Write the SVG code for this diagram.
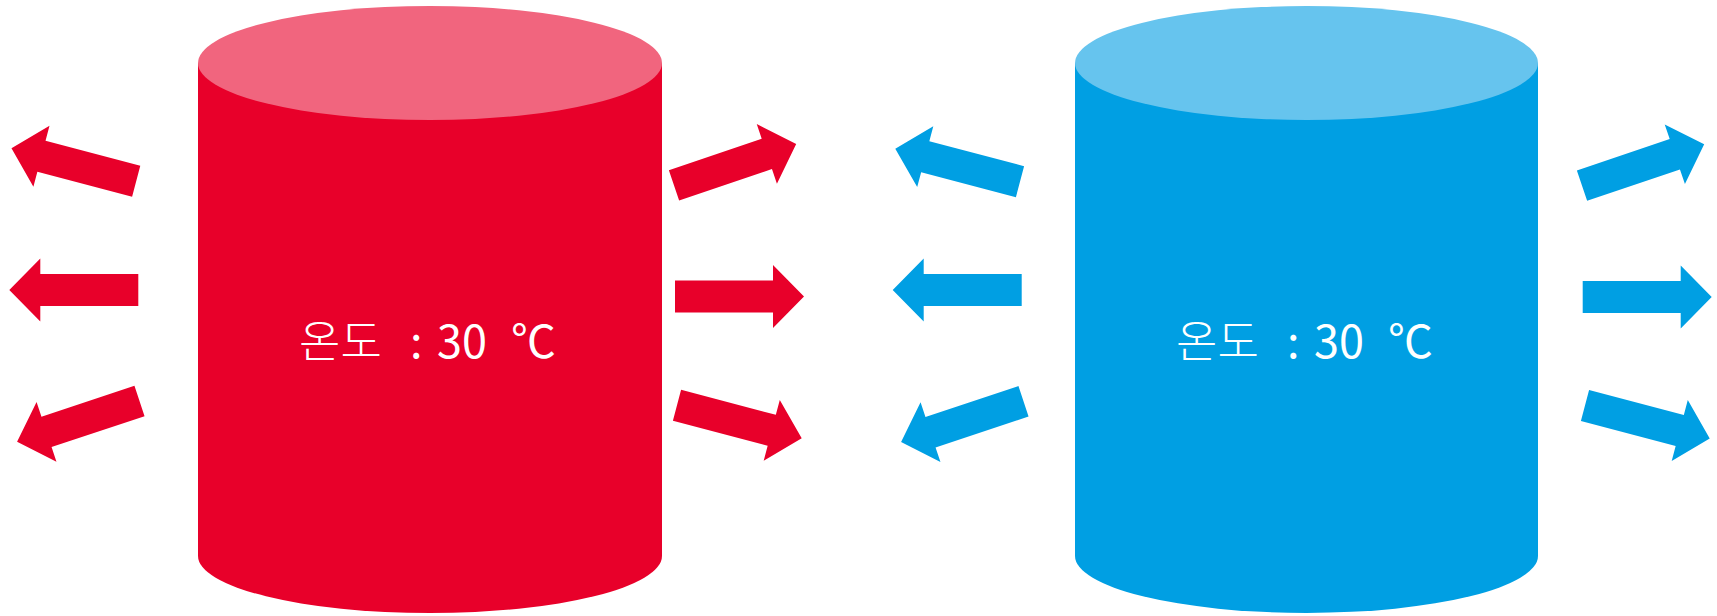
<svg xmlns="http://www.w3.org/2000/svg" width="1717" height="616" viewBox="0 0 1717 616">
<style>
.red{fill:#E8002A}
.redtop{fill:#F1657E}
.blue{fill:#009FE3}
.bluetop{fill:#66C4EE}
.lbl{fill:#FFFFFF;font-family:"Noto Sans CJK KR","Noto Sans",sans-serif;font-size:45px;font-weight:300}
.num{font-weight:400}
</style>
<defs>
<path id="arr" d="M0,-16 L98,-16 L98,-31.5 L129,0 L98,31.5 L98,16 L0,16 Z"/>
</defs>
<rect width="1717" height="616" fill="#FFFFFF"/>
<g id="cylinder-red">
<path class="red" d="M198,63 L198,556 A232,57 0 0 0 662,556 L662,63 Z"/>
<ellipse class="redtop" cx="430" cy="63" rx="232" ry="57"/>
<text class="lbl" y="358"><tspan x="299">온도</tspan><tspan class="num" x="410">:</tspan><tspan class="num" x="437">30</tspan><tspan class="num" x="511">℃</tspan></text>
</g>
<g id="cylinder-blue">
<path class="blue" d="M1075,63 L1075,556 A231.5,57 0 0 0 1538,556 L1538,63 Z"/>
<ellipse class="bluetop" cx="1306.5" cy="63" rx="231.5" ry="57"/>
<text class="lbl" y="358"><tspan x="1176">온도</tspan><tspan class="num" x="1287">:</tspan><tspan class="num" x="1314">30</tspan><tspan class="num" x="1388">℃</tspan></text>
</g>
<g id="connectors">
<use href="#arr" class="red" transform="translate(136.2,181.3) rotate(194.8)"/>
<use href="#arr" class="red" transform="translate(138.3,290) rotate(180)"/>
<use href="#arr" class="red" transform="translate(139.5,401) rotate(161.6)"/>
<use href="#arr" class="red" transform="translate(674,185.3) rotate(-18.7)"/>
<use href="#arr" class="red" transform="translate(675,296.5)"/>
<use href="#arr" class="red" transform="translate(677,405.3) rotate(14.8)"/>
<use href="#arr" class="blue" transform="translate(1020,181.7) rotate(194.8)"/>
<use href="#arr" class="blue" transform="translate(1021.7,290) rotate(180)"/>
<use href="#arr" class="blue" transform="translate(1023.5,401.3) rotate(161.6)"/>
<use href="#arr" class="blue" transform="translate(1582,185.7) rotate(-18.7)"/>
<use href="#arr" class="blue" transform="translate(1582.7,297)"/>
<use href="#arr" class="blue" transform="translate(1585,405.5) rotate(14.8)"/>
</g>
</svg>
